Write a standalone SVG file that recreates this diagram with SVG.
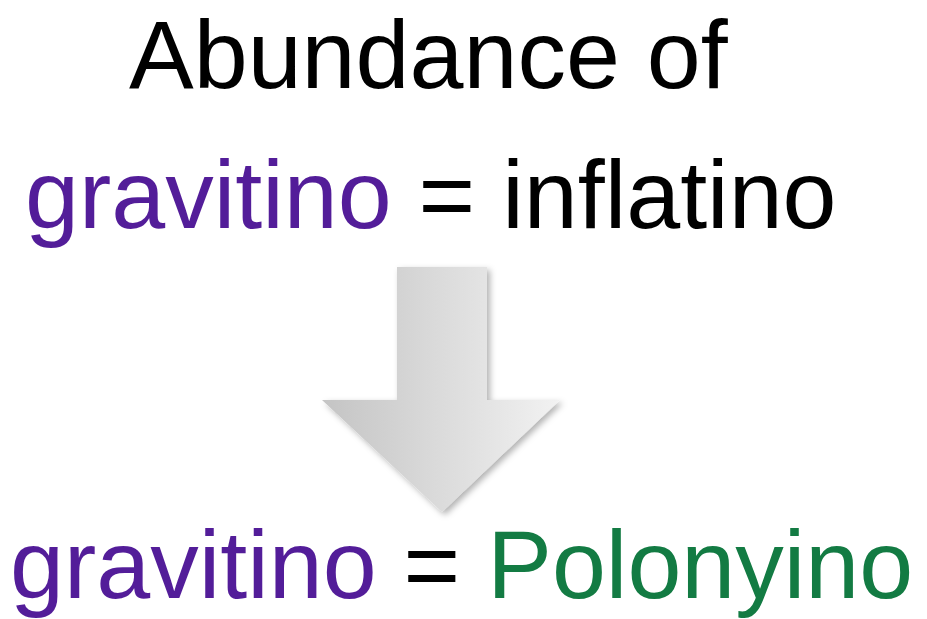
<svg xmlns="http://www.w3.org/2000/svg" width="927" height="619" viewBox="0 0 927 619">
<defs>
<style>
.t{font-family:"Liberation Sans",Arial,Helvetica,sans-serif;font-size:97px;}
.k{fill:#000;}
.p{fill:#531d99;}
.g{fill:#137b43;}
</style>
<linearGradient id="ag" x1="0" y1="0" x2="1" y2="0">
<stop offset="0" stop-color="#c4c4c4"/>
<stop offset="1" stop-color="#f2f2f2"/>
</linearGradient>
<filter id="sh" x="-20%" y="-20%" width="140%" height="140%">
<feDropShadow dx="3" dy="3" stdDeviation="3" flood-color="#000" flood-opacity="0.3"/>
</filter>
</defs>
<rect width="927" height="619" fill="#fff"/>
<g id="title"><text class="t k" x="129" y="88">Abundance of</text></g>
<g id="line1"><text class="t" x="25" y="228"><tspan class="p">gravitino</tspan><tspan class="k"> = inflatino</tspan></text></g>
<g id="arrow"><path d="M397,267 H487 V400 H560 L442,512 L322,400 H397 Z" fill="url(#ag)" filter="url(#sh)"/></g>
<g id="line2"><text class="t" x="10" y="598"><tspan class="p">gravitino</tspan><tspan class="k"> = </tspan><tspan class="g">Polonyino</tspan></text></g>
</svg>
